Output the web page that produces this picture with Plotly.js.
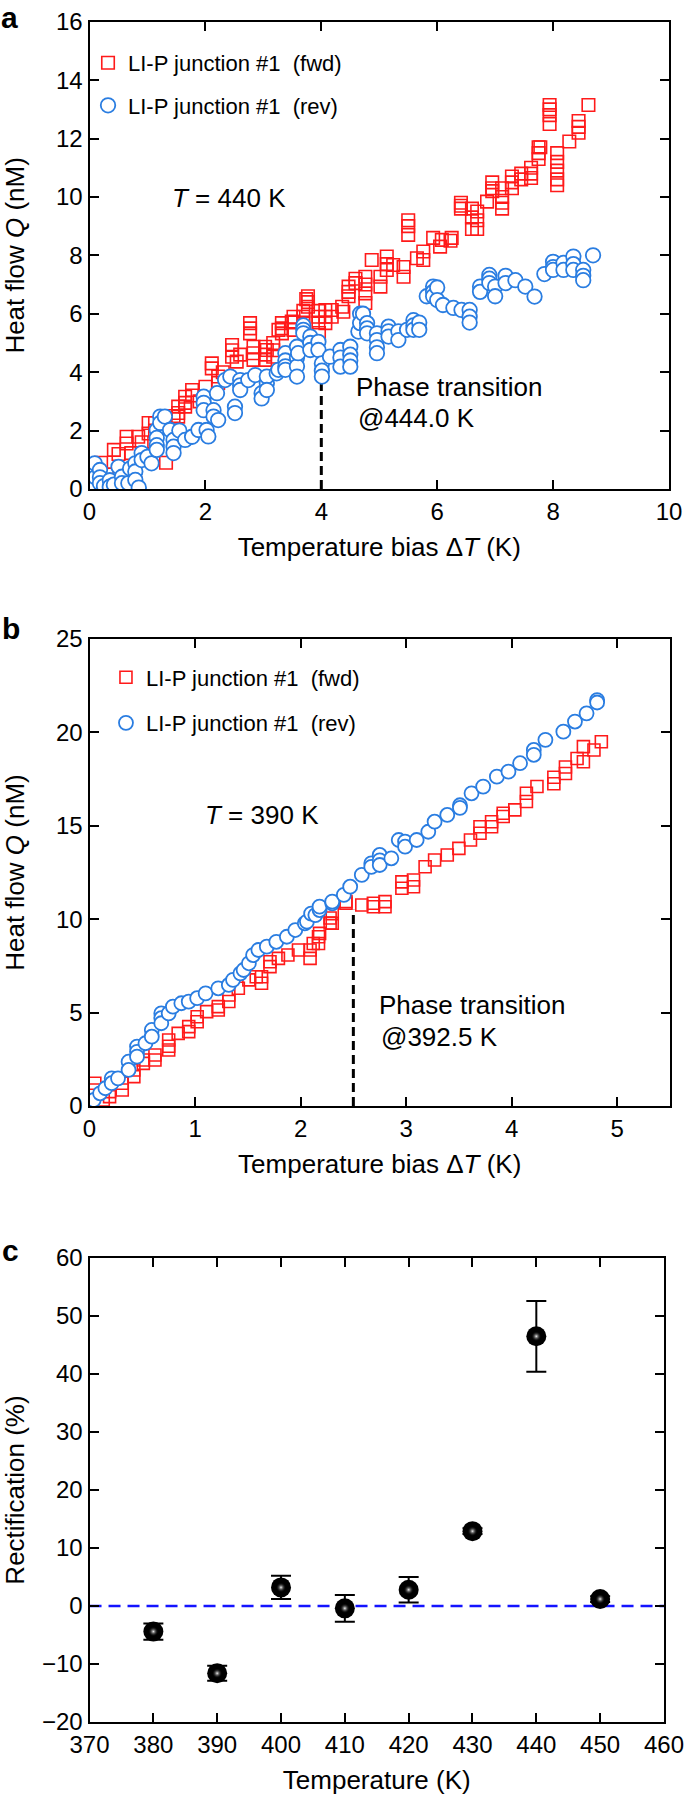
<!DOCTYPE html>
<html>
<head>
<meta charset="utf-8">
<script src="https://cdn.plot.ly/plotly-3.0.1.min.js"></script>
<style>
  html, body { margin: 0; padding: 0; background: #fff; }
  #chart { width: 685px; height: 1800px; }
</style>
</head>
<body>
<div id="chart"></div>
<script>
// ---------- Panel a: T = 440 K ----------
const fwdA_x = [0.05,0.1,0.2,0.3,0.42,0.5,0.64,0.64,0.72,0.79,0.84,0.9,0.95,1.02,1.02,1.13,1.13,1.3,1.3,1.32,1.45,1.53,1.53,1.53,1.65,1.65,1.65,1.77,1.77,1.9,2.0,2.11,2.11,2.22,2.22,2.3,2.46,2.46,2.46,2.54,2.6,2.77,2.77,2.77,2.83,2.83,2.83,3.03,3.03,3.03,3.06,3.17,3.17,3.17,3.26,3.32,3.32,3.32,3.49,3.52,3.52,3.52,3.69,3.69,3.69,3.74,3.77,3.77,3.77,3.95,3.95,3.95,3.96,4.07,4.07,4.07,4.18,4.18,4.36,4.38,4.47,4.47,4.47,4.59,4.59,4.76,4.76,4.76,4.76,4.87,5.02,5.02,5.13,5.13,5.13,5.24,5.42,5.42,5.5,5.5,5.5,5.65,5.76,5.76,5.93,6.05,6.08,6.23,6.25,6.41,6.41,6.41,6.6,6.6,6.6,6.69,6.69,6.69,6.86,6.95,6.95,6.95,7.12,7.12,7.12,7.12,7.29,7.29,7.29,7.45,7.45,7.62,7.62,7.62,7.75,7.75,7.75,7.78,7.94,7.94,7.94,7.94,8.07,8.07,8.07,8.07,8.07,8.28,8.44,8.44,8.44,8.61];
const fwdA_y = [0.3,0.6,0.9,0.5,1.34,1.2,1.56,1.79,1.23,0.2,1.79,1.6,1.2,2.26,1.9,2.26,2.0,2.36,2.1,0.9,2.5,2.82,2.6,2.48,3.16,2.95,2.82,3.39,3.2,3.0,3.5,4.13,4.3,3.85,3.63,4.0,4.93,4.75,4.53,4.36,4.6,5.68,5.5,5.33,4.87,4.65,4.42,4.87,4.6,4.42,4.76,5.0,4.75,4.53,5.45,5.68,5.5,5.33,5.73,5.9,5.7,5.45,6.1,5.9,5.7,6.5,6.6,6.4,6.24,6.1,5.9,5.7,5.34,6.13,5.9,5.68,6.13,5.9,6.24,6.07,6.93,6.75,6.6,7.2,7.05,7.27,7.0,6.7,6.37,7.84,7.27,6.93,7.96,7.7,7.5,7.67,7.6,7.27,9.2,9.0,8.7,7.9,8.13,7.84,8.6,8.3,8.53,8.5,8.6,9.8,9.7,9.6,9.6,9.3,8.9,9.5,9.2,8.9,9.84,10.5,10.3,10.2,10.3,10.0,9.8,9.6,10.7,10.5,10.3,10.8,10.6,11.0,10.8,10.65,11.7,11.5,11.3,11.7,13.15,13.0,12.8,12.5,11.5,11.2,10.9,10.6,10.4,11.9,12.6,12.4,12.2,13.15];

const revA_x = [0.02,0.05,0.09,0.1,0.18,0.18,0.18,0.25,0.35,0.35,0.42,0.5,0.56,0.56,0.67,0.7,0.79,0.79,0.79,0.85,0.9,0.9,1.0,1.07,1.16,1.16,1.16,1.16,1.22,1.22,1.3,1.39,1.45,1.45,1.45,1.55,1.65,1.77,1.88,1.97,1.97,1.97,2.02,2.05,2.14,2.14,2.2,2.22,2.34,2.43,2.51,2.51,2.6,2.6,2.6,2.74,2.86,2.97,2.97,3.06,3.06,3.06,3.23,3.26,3.38,3.38,3.38,3.38,3.58,3.58,3.58,3.58,3.6,3.69,3.69,3.69,3.81,3.81,3.81,3.95,3.95,4.01,4.01,4.01,4.15,4.33,4.33,4.33,4.5,4.5,4.5,4.5,4.64,4.67,4.67,4.72,4.79,4.79,4.79,4.96,4.96,4.96,4.96,5.16,5.16,5.16,5.33,5.33,5.48,5.59,5.59,5.59,5.69,5.69,5.82,5.93,5.93,5.93,6.0,6.0,6.1,6.28,6.42,6.56,6.56,6.56,6.74,6.74,6.9,6.9,6.9,7.0,7.0,7.18,7.18,7.35,7.52,7.68,7.85,8.0,8.0,8.0,8.18,8.18,8.35,8.35,8.35,8.52,8.52,8.52,8.69];
const revA_y = [0.5,0.2,0.88,0.4,0.65,0.4,0.2,0.1,0.3,0.08,0.15,0.76,0.42,0.2,0.2,0.7,0.88,0.6,0.31,0.05,1.23,0.99,1.1,0.88,2.02,1.75,1.5,1.34,2.48,2.26,2.48,2.02,1.68,1.45,1.23,2.0,1.68,1.79,2.02,3.16,2.95,2.7,2.02,1.8,2.7,2.48,3.28,2.36,3.73,3.85,2.82,2.6,3.73,3.55,3.39,3.73,3.9,3.28,3.1,3.62,3.85,3.39,3.96,4.08,4.65,4.4,4.2,4.08,4.87,4.5,4.2,3.85,4.65,5.6,5.45,5.33,5.22,5.0,4.76,5.04,4.76,4.3,4.05,3.85,4.53,4.76,4.5,4.19,4.87,4.6,4.4,4.19,5.39,6.0,5.68,6.0,5.68,5.5,5.33,5.33,5.1,4.85,4.65,5.56,5.4,5.22,5.4,5.1,5.45,5.78,5.6,5.45,5.7,5.45,6.6,6.93,6.75,6.6,6.9,6.47,6.3,6.2,6.13,6.13,5.9,5.7,6.93,6.75,7.33,7.2,7.05,6.93,6.6,7.3,7.05,7.15,6.93,6.59,7.36,7.78,7.6,7.5,7.74,7.5,7.96,7.7,7.5,7.5,7.3,7.15,8.0];

// ---------- Panel b: T = 390 K ----------
const fwdB_x = [0.05,0.05,0.13,0.19,0.19,0.31,0.31,0.42,0.42,0.51,0.51,0.62,0.62,0.75,0.75,0.75,0.84,0.94,0.94,1.02,1.02,1.11,1.22,1.22,1.32,1.32,1.41,1.51,1.58,1.63,1.63,1.71,1.71,1.79,1.88,1.98,2.09,2.09,2.12,2.17,2.17,2.18,2.28,2.28,2.3,2.3,2.43,2.43,2.58,2.69,2.69,2.8,2.8,2.96,2.96,3.07,3.07,3.18,3.27,3.39,3.5,3.61,3.7,3.7,3.81,3.81,3.92,3.92,4.03,4.14,4.14,4.24,4.4,4.4,4.51,4.51,4.62,4.68,4.68,4.78,4.85];
const fwdB_y = [1.22,0.86,0.32,0.77,0.5,1.22,0.86,1.93,1.57,2.46,2.28,2.73,2.46,3.53,3.2,3.0,3.89,4.25,3.98,4.78,4.51,5.05,5.32,5.14,5.94,5.59,6.3,6.75,6.92,6.92,6.57,7.72,7.46,7.9,8.08,8.35,8.35,7.9,8.7,9.06,8.7,9.24,9.8,10.06,10.3,9.78,10.94,10.85,10.76,10.85,10.67,10.94,10.67,12.0,11.66,12.1,11.74,12.81,13.17,13.44,13.79,14.24,14.95,14.6,15.22,14.95,15.67,15.5,15.85,16.74,16.3,17.1,17.6,17.25,18.15,17.8,18.6,19.24,18.43,19.06,19.5];

const revB_x = [0.04,0.1,0.15,0.21,0.21,0.27,0.37,0.37,0.45,0.45,0.45,0.53,0.59,0.59,0.68,0.68,0.68,0.75,0.79,0.87,0.94,1.02,1.1,1.22,1.32,1.36,1.43,1.46,1.51,1.55,1.6,1.68,1.77,1.87,1.95,2.04,2.06,2.1,2.14,2.18,2.18,2.3,2.3,2.41,2.47,2.58,2.67,2.67,2.75,2.75,2.75,2.86,2.93,2.99,2.99,3.1,3.21,3.27,3.39,3.51,3.51,3.62,3.73,3.86,3.97,4.08,4.21,4.21,4.32,4.49,4.6,4.71,4.81,4.81];
const revB_y = [0.32,0.68,0.95,1.48,1.22,1.48,2.37,1.93,3.18,2.9,2.64,3.36,4.07,3.71,4.96,4.7,4.43,4.96,5.32,5.5,5.59,5.77,6.03,6.3,6.48,6.75,7.1,7.28,7.64,8.08,8.35,8.53,8.79,9.06,9.42,9.78,9.87,10.3,10.22,10.49,10.67,10.85,10.94,11.3,11.74,12.37,12.99,12.8,13.44,13.15,12.9,13.26,14.24,14.15,13.88,14.24,14.68,15.22,15.58,16.1,15.96,16.74,17.1,17.63,17.9,18.35,19.06,18.8,19.6,20.04,20.58,21.02,21.73,21.6];

// ---------- Panel c: rectification vs temperature ----------
const temps = [380, 390, 400, 410, 420, 430, 440, 450];
const rectification = [-4.4, -11.6, 3.2, -0.4, 2.8, 12.9, 46.5, 1.2];
const rectErr = [1.4, 1.3, 2.0, 2.3, 2.2, 0.5, 6.1, 0.5];

// reference levels
const transitionA = 4.0, transitionTopA = 4.8;
const transitionB = 2.5, transitionTopB = 10.5;
const zeroLevel = 0;

const legendNames = ['LI-P junction #1  (fwd)', 'LI-P junction #1  (rev)'];

// ---------- styling ----------
const FONT = 'Liberation Sans, Arial, Helvetica, sans-serif';
const RED = '#ff1a1a';
const BLUE = '#2a7de1';

const sqMarkerA = {symbol: 'square-open', size: 12.5, color: RED, line: {width: 1.6}};
const ciMarkerA = {symbol: 'circle', size: 14.5, color: 'white', line: {color: BLUE, width: 1.8}};
const sqMarkerB = {symbol: 'square-open', size: 12, color: RED, line: {width: 1.6}};
const ciMarkerB = {symbol: 'circle', size: 14, color: 'white', line: {color: BLUE, width: 1.8}};

const traces = [
  {x: fwdA_x, y: fwdA_y, xaxis: 'x', yaxis: 'y', type: 'scatter', mode: 'markers',
   name: legendNames[0], marker: sqMarkerA, legend: 'legend', legendgroup: 'a1'},
  {x: revA_x, y: revA_y, xaxis: 'x', yaxis: 'y', type: 'scatter', mode: 'markers',
   name: legendNames[1], marker: ciMarkerA, legend: 'legend', legendgroup: 'a2'},
  {x: fwdB_x, y: fwdB_y, xaxis: 'x2', yaxis: 'y2', type: 'scatter', mode: 'markers',
   name: legendNames[0], marker: sqMarkerB, legend: 'legend2', legendgroup: 'b1'},
  {x: revB_x, y: revB_y, xaxis: 'x2', yaxis: 'y2', type: 'scatter', mode: 'markers',
   name: legendNames[1], marker: ciMarkerB, legend: 'legend2', legendgroup: 'b2'},
  {x: temps, y: rectification, xaxis: 'x3', yaxis: 'y3', type: 'scatter', mode: 'markers',
   showlegend: false, name: 'Rectification',
   error_y: {type: 'data', array: rectErr, visible: true, color: 'black', thickness: 2, width: 10},
   marker: {symbol: 'circle', size: 20, color: '#000000', line: {width: 0}}},
  {x: temps, y: rectification, xaxis: 'x3', yaxis: 'y3', type: 'scatter', mode: 'markers',
   showlegend: false, hoverinfo: 'skip',
   marker: {symbol: 'circle', size: 10, color: 'rgba(0,0,0,0)', line: {width: 0},
            gradient: {type: 'radial', color: 'rgba(240,240,240,1)'}}}
];

const axisBase = {
  showline: true, linecolor: 'black', linewidth: 2, mirror: 'ticks',
  ticks: 'inside', ticklen: 9, tickwidth: 2, tickcolor: 'black',
  showgrid: false, zeroline: false, fixedrange: true,
  tickfont: {family: FONT, size: 24, color: 'black'}
};
const titleFont = {family: FONT, size: 26, color: 'black'};

function ax(extra) { return Object.assign({}, axisBase, extra); }

const annFont = {family: FONT, size: 26, color: 'black'};
const panelFont = {family: FONT, size: 30, color: 'black'};
const legendFont = {family: FONT, size: 22, color: 'black'};

const layout = {
  width: 685, height: 1800,
  margin: {l: 0, r: 0, t: 0, b: 0},
  paper_bgcolor: 'white', plot_bgcolor: 'white',
  font: {family: FONT, color: 'black'},
  xaxis: ax({domain: [0.1307, 0.9766], range: [0, 10], dtick: 2, anchor: 'y',
             title: {text: 'Temperature bias Δ<i>T</i> (K)', font: titleFont, standoff: 14}}),
  yaxis: ax({domain: [0.72833, 0.98794], range: [0, 16], dtick: 2, anchor: 'x',
             title: {text: 'Heat flow <i>Q</i> (nM)', font: titleFont, standoff: 26}}),
  xaxis2: ax({domain: [0.1307, 0.978], range: [0, 5.5], dtick: 1, anchor: 'y2',
              title: {text: 'Temperature bias Δ<i>T</i> (K)', font: titleFont, standoff: 14}}),
  yaxis2: ax({domain: [0.38556, 0.645], range: [0, 25], dtick: 5, anchor: 'x2',
              title: {text: 'Heat flow <i>Q</i> (nM)', font: titleFont, standoff: 26}}),
  xaxis3: ax({domain: [0.1307, 0.9693], range: [370, 460], dtick: 10, anchor: 'y3',
              title: {text: 'Temperature (K)', font: titleFont, standoff: 14}}),
  yaxis3: ax({domain: [0.04333, 0.30111], range: [-20, 60], dtick: 10, anchor: 'x3',
              title: {text: 'Rectification (%)', font: titleFont, standoff: 10}}),
  legend: {x: 0.1285, y: 0.9767, xanchor: 'left', yanchor: 'top', bgcolor: 'rgba(0,0,0,0)',
           font: legendFont, tracegroupgap: 11, traceorder: 'grouped'},
  legend2: {x: 0.1547, y: 0.6353, xanchor: 'left', yanchor: 'top', bgcolor: 'rgba(0,0,0,0)',
            font: legendFont, tracegroupgap: 14, traceorder: 'grouped'},
  shapes: [
    {type: 'line', xref: 'x', yref: 'y', x0: transitionA, x1: transitionA, y0: 0, y1: transitionTopA,
     line: {color: 'black', width: 3, dash: '9px,5px'}, layer: 'below'},
    {type: 'line', xref: 'x2', yref: 'y2', x0: transitionB, x1: transitionB, y0: 0, y1: transitionTopB,
     line: {color: 'black', width: 3, dash: '9px,5px'}, layer: 'below'},
    {type: 'line', xref: 'x3 domain', yref: 'y3', x0: 0, x1: 1, y0: zeroLevel, y1: zeroLevel,
     line: {color: '#1414ff', width: 2.5, dash: '12px,7px'}, layer: 'below'}
  ],
  annotations: [
    {text: '<b>a</b>', xref: 'paper', yref: 'paper', x: 0, y: 1, xanchor: 'left', yanchor: 'top', showarrow: false, font: panelFont, borderpad: 0},
    {text: '<b>b</b>', xref: 'paper', yref: 'paper', x: 0, y: 1 - 628/1800, xanchor: 'left', yanchor: 'middle', showarrow: false, font: panelFont},
    {text: '<b>c</b>', xref: 'paper', yref: 'paper', x: 0, y: 1 - 1250/1800, xanchor: 'left', yanchor: 'middle', showarrow: false, font: panelFont},
    {text: '<i>T</i> = 440 K', xref: 'x', yref: 'y', x: 1.39, y: 9.97, xanchor: 'left', yanchor: 'middle', showarrow: false, font: annFont},
    {text: 'Phase transition', xref: 'x', yref: 'y', x: 4.57, y: 3.5, xanchor: 'left', yanchor: 'middle', showarrow: false, font: annFont},
    {text: '@444.0 K', xref: 'x', yref: 'y', x: 4.6, y: 2.43, xanchor: 'left', yanchor: 'middle', showarrow: false, font: annFont},
    {text: '<i>T</i> = 390 K', xref: 'x2', yref: 'y2', x: 1.08, y: 15.58, xanchor: 'left', yanchor: 'middle', showarrow: false, font: annFont},
    {text: 'Phase transition', xref: 'x2', yref: 'y2', x: 2.72, y: 5.41, xanchor: 'left', yanchor: 'middle', showarrow: false, font: annFont},
    {text: '@392.5 K', xref: 'x2', yref: 'y2', x: 2.74, y: 3.69, xanchor: 'left', yanchor: 'middle', showarrow: false, font: annFont}
  ]
};

Plotly.newPlot('chart', traces, layout, {displayModeBar: false, staticPlot: true});
</script>
</body>
</html>
